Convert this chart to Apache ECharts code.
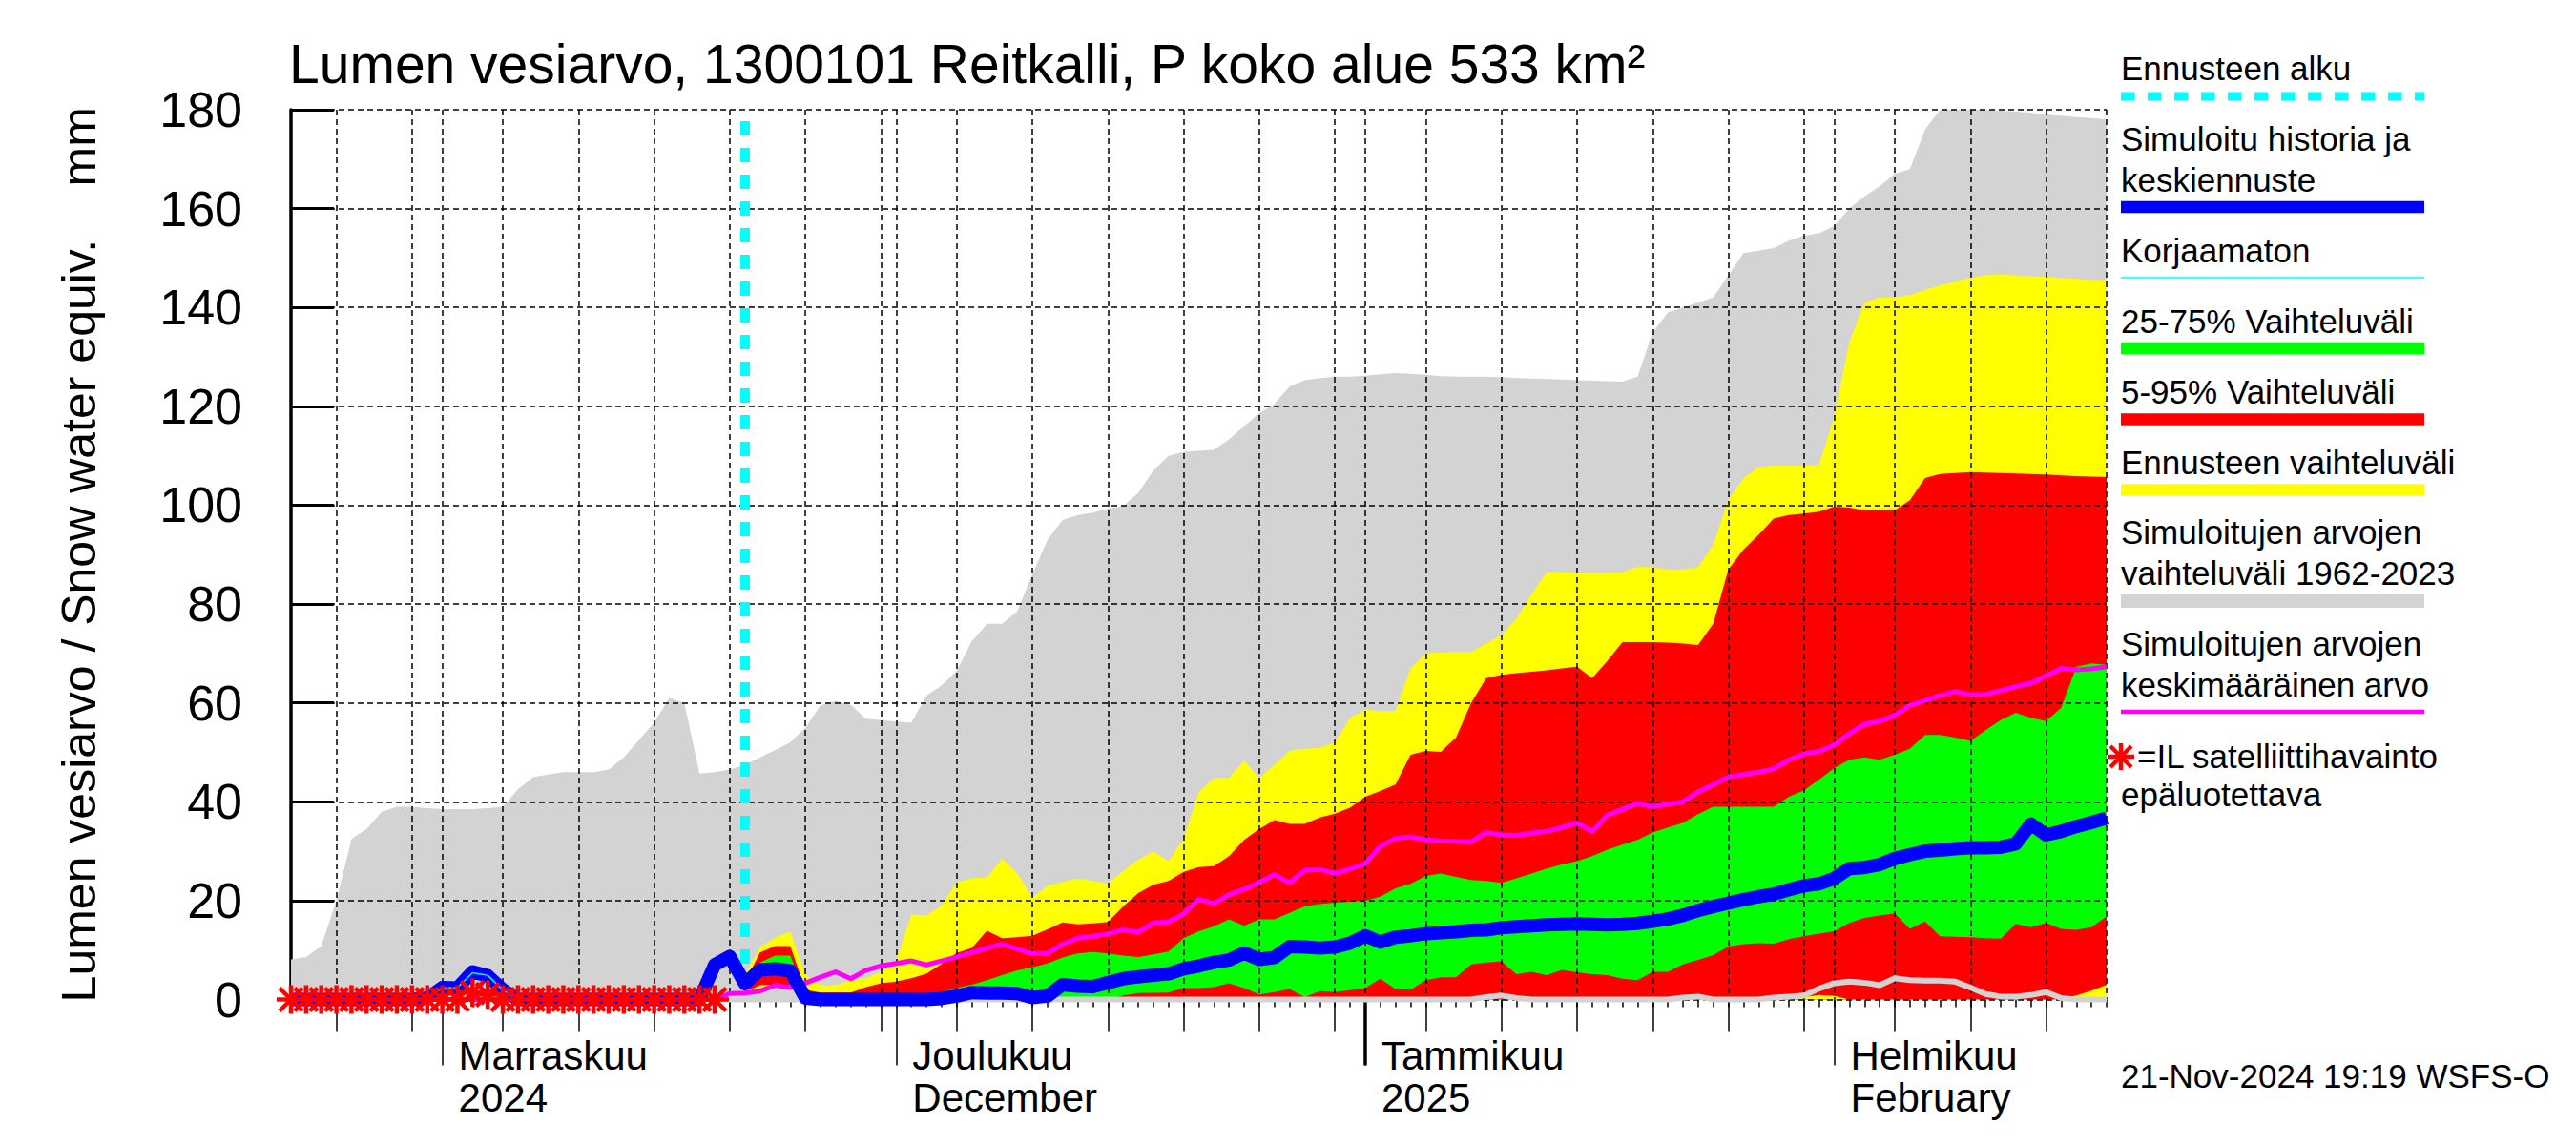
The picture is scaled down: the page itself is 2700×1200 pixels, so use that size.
<!DOCTYPE html>
<html><head><meta charset="utf-8">
<script src="https://cdn.jsdelivr.net/npm/echarts@6/dist/echarts.min.js"></script>
<style>html,body{margin:0;padding:0;background:#fff}#c{width:2700px;height:1200px}</style>
</head><body><div id="c"></div>
<script>
// ---- categories: daily dates 22 Oct 2024 .. 19 Feb 2025 ----
const firstDay = '2024-10-22';
const dayCount = 121;
const dates = [];
for (let i = 0; i < dayCount; i++) {
  const d = new Date(Date.UTC(2024, 9, 22 + i));
  dates.push(d.toISOString().slice(0, 10));
}
const forecastStart = '2024-11-21';
const monthLabelDates = ['2024-11-01', '2024-12-01', '2025-01-01', '2025-02-01'];
const monthLabels = ['Marraskuu\n2024', 'Joulukuu\nDecember', 'Tammikuu\n2025', 'Helmikuu\nFebruary'];
const yTicks = [0, 20, 40, 60, 80, 100, 120, 140, 160, 180];

// ---- series values (mm) ----
// simulated values 1962-2023: maximum (grey band top)
const histMax = [
  8.1, 8.6, 10.8, 20, 32.5, 34.5, 38, 39, 39, 38.7,
  38.5, 38.5, 38.5, 38.7, 39, 42.5, 45, 45.5, 46, 46,
  46, 46.5, 49, 52.5, 56, 61, 60, 45.7, 46, 46.5,
  47.5, 49, 50.5, 52, 55, 59.5, 60.4, 59.6, 56.8, 56.5,
  56.2, 56, 61.5, 63.5, 66.5, 72.5, 76, 76, 78.5, 86,
  93, 97, 98, 98.5, 99.3, 99.8, 102.5, 107, 110, 110.8,
  111, 111.2, 113.3, 116, 118.6, 120.5, 124, 125.3, 125.7, 126,
  126, 126.2, 126.5, 126.7, 126.6, 126.4, 126.1, 126, 126, 126,
  125.9, 125.7, 125.6, 125.5, 125.4, 125.3, 125.2, 125.1, 125, 126,
  135, 139, 140, 141, 142, 146.5, 151, 151.5, 152, 153.5,
  154.5, 155, 156.5, 160, 162.5, 164.5, 167, 168, 176, 180,
  180, 180, 180, 179.8, 179.6, 179.4, 179, 178.8, 178.5, 178.3, 178
];
// simulated values 1962-2023: minimum (grey line)
const histMin = [
  0, 0, 0, 0, 0, 0, 0, 0, 0, 0,
  0, 0, 0, 0, 0, 0, 0, 0, 0, 0,
  0, 0, 0, 0, 0, 0, 0, 0, 0, 0,
  0, 0, 0, 0, 0, 0, 0, 0, 0, 0,
  0, 0, 0, 0, 0, 0, 0, 0, 0, 0,
  0, 0, 0, 0, 0, 0, 0, 0, 0, 0,
  0, 0, 0, 0, 0, 0, 0, 0, 0, 0,
  0, 0, 0, 0, 0, 0, 0, 0, 0, 0.5,
  0.8, 0.3, 0, 0, 0, 0, 0, 0, 0, 0,
  0, 0, 0.4, 0.6, 0, 0, 0, 0, 0.4, 0.6,
  0.8, 2.2, 3.3, 3.6, 3.4, 2.9, 4.3, 3.9, 3.8, 3.8,
  3.6, 2.4, 1.1, 0.6, 0.6, 0.9, 1.5, 0.3, 0, 0, 0
];
// forecast range (yellow) max
const fcMax = [
  null, null, null, null, null, null, null, null, null, null,
  null, null, null, null, null, null, null, null, null, null,
  null, null, null, null, null, null, null, null, null, null,
  5, 10.5, 12.5, 13.7, 5, 2.9, 2.9, 3.9, 4.3, 5.5,
  7.8, 17.2, 17, 19, 23.7, 24.5, 24.7, 28.5, 25.5, 20.6,
  22.9, 23.8, 24.5, 24, 23.5, 26, 28.3, 29.9, 28, 32.5,
  42, 44.8, 44.9, 48.3, 44.8, 47.5, 50.3, 50.7, 50.9, 52,
  57, 58.6, 58.4, 58.4, 67, 70, 70.2, 70.3, 70.3, 72,
  73.7, 77, 82, 86.5, 86.5, 86.3, 86.3, 86.3, 86.5, 87.5,
  87.5, 87, 87, 87.5, 92, 101, 105.5, 107.7, 108, 108,
  108, 108.2, 118, 133, 141, 142, 142, 142.5, 143.5, 144.5,
  145.2, 146, 146.5, 146.7, 146.5, 146.3, 146.2, 146, 145.8, 145.6, 145.5
];
// 95 % quantile
const p95 = [
  null, null, null, null, null, null, null, null, null, null,
  null, null, null, null, null, null, null, null, null, null,
  null, null, null, null, null, null, null, null, null, null,
  3.5, 9.5, 10.8, 10.8, 2, 1.4, 1.4, 1.4, 2.5, 3.3,
  3.6, 4.3, 5.2, 7.2, 9.4, 10.4, 13.9, 12.4, 12.6, 12.9,
  14.2, 15.6, 15.2, 15.4, 15.7, 18.8, 21.5, 23.2, 24, 25.8,
  26.8, 27, 29, 32.3, 34.5, 36.3, 35.5, 35.5, 36.8, 37.6,
  38.8, 41, 42.2, 43.5, 49.5, 50.3, 50.1, 53, 60, 65,
  65.7, 66, 66.3, 66.6, 67, 67.3, 65, 68.5, 72.3, 72.3,
  72.3, 72.2, 72, 71.7, 76, 87, 91, 94, 97.3, 98,
  98.3, 98.7, 99.7, 99.5, 99, 99, 99, 101, 105.5, 106.3,
  106.5, 106.7, 106.6, 106.5, 106.4, 106.3, 106.2, 106, 105.9, 105.8, 105.7
];
// 75 % quantile
const p75 = [
  null, null, null, null, null, null, null, null, null, null,
  null, null, null, null, null, null, null, null, null, null,
  null, null, null, null, null, null, null, null, null, null,
  3, 7.5, 8.9, 8.9, 1, 0.5, 0.5, 0.5, 0.5, 0.5,
  0.5, 0.6, 0.8, 1.5, 2.3, 3, 3.9, 4.9, 5.9, 6.5,
  7.3, 8.5, 9.3, 9.6, 9.3, 8.9, 8.6, 9.1, 9.7, 12.4,
  13.8, 14.8, 16.2, 14.9, 16.2, 16.2, 17.5, 18.8, 19.3, 19.6,
  19.8, 20, 20.8, 22.5, 23.4, 25, 25.5, 24.8, 24.2, 24,
  23.6, 24.5, 25.5, 26.5, 27.3, 28, 29, 30.3, 31.3, 32.3,
  33.8, 34.8, 35.7, 37.5, 39, 39, 39, 39, 39, 41,
  42.3, 44.5, 46.8, 48.5, 49, 48.5, 49.5, 50.7, 53.5, 53.5,
  53, 52.3, 54.5, 56.5, 58, 57, 56.3, 59, 67.3, 68, 67.7
];
// 25 % quantile
const p25 = [
  null, null, null, null, null, null, null, null, null, null,
  null, null, null, null, null, null, null, null, null, null,
  null, null, null, null, null, null, null, null, null, null,
  2.5, 4.8, 5.2, 5, 0, 0, 0, 0, 0, 0,
  0, 0, 0, 0, 0, 0, 0, 0, 0, 0,
  0, 0, 0, 0, 0, 0.8, 1.3, 1.35, 1.4, 2.3,
  2.3, 2.5, 3.3, 2.3, 1, 1.5, 2.1, 0.5, 1.7, 1.5,
  1.9, 2.3, 4.2, 2.1, 2, 3.9, 4.5, 4.5, 7.1, 7.5,
  7.7, 5.1, 5.6, 4.9, 6, 5.5, 5.1, 4.9, 4.2, 3.9,
  5.6, 5.6, 7.1, 8, 9, 10.7, 11.2, 11.4, 11.3, 12.2,
  12.8, 13.3, 13.8, 15.5, 16.5, 17, 17.4, 14.3, 15.8, 12.8,
  12.7, 12.6, 12.4, 12.3, 15.3, 14.6, 15.5, 14.3, 14.1, 14.6, 16.8
];
// 5 % quantile
const p05 = [
  null, null, null, null, null, null, null, null, null, null,
  null, null, null, null, null, null, null, null, null, null,
  null, null, null, null, null, null, null, null, null, null,
  1.5, 2.9, 3, 2.9, 0, 0, 0, 0, 0, 0,
  0, 0, 0, 0, 0, 0, 0, 0, 0, 0,
  0, 0, 0, 0, 0, 0, 0, 0, 0, 0,
  0, 0, 0, 0, 0, 0, 0, 0, 0, 0,
  0, 0, 0, 0, 0, 0, 0, 0, 0, 0,
  0, 0, 0, 0, 0, 0, 0, 0, 0, 0,
  0, 0, 0, 0, 0, 0, 0, 0, 0, 0,
  0.5, 0.9, 0.7, 0, 0, 0, 0, 0, 0, 0,
  0, 0, 0, 0, 0, 0, 0, 0.2, 0.8, 1.8, 3
];
// forecast range min
const fcMin = [
  null, null, null, null, null, null, null, null, null, null,
  null, null, null, null, null, null, null, null, null, null,
  null, null, null, null, null, null, null, null, null, null,
  1, 2.2, 2.3, 2.2, 0, 0, 0, 0, 0, 0,
  0, 0, 0, 0, 0, 0, 0, 0, 0, 0,
  0, 0, 0, 0, 0, 0, 0, 0, 0, 0,
  0, 0, 0, 0, 0, 0, 0, 0, 0, 0,
  0, 0, 0, 0, 0, 0, 0, 0, 0, 0,
  0, 0, 0, 0, 0, 0, 0, 0, 0, 0,
  0, 0, 0, 0, 0, 0, 0, 0, 0, 0,
  0, 0, 0, 0, 0, 0, 0, 0, 0, 0,
  0, 0, 0, 0, 0, 0, 0, 0, 0, 0, 0
];
// simulated history and median forecast (blue)
const median = [
  0, 0, 0, 0, 0, 0, 0, 0, 0, 0.3,
  2.4, 2.3, 5.6, 4.8, 2, 0, 0, 0, 0, 0,
  0, 0, 0, 0, 0, 0, 0, 0, 7, 8.7,
  3.2, 6, 6.2, 5.8, 0.3, 0, 0, 0, 0, 0,
  0, 0, 0, 0.2, 0.7, 1.4, 1.3, 1.3, 1.2, 0.4,
  0.7, 3, 2.7, 2.6, 3.4, 4.2, 4.6, 4.9, 5.2, 6.2,
  6.8, 7.5, 8, 9.4, 8.1, 8.5, 10.7, 10.6, 10.4, 10.6,
  11.4, 12.9, 11.6, 12.6, 12.9, 13.3, 13.5, 13.7, 14, 14.1,
  14.5, 14.7, 14.9, 15.1, 15.2, 15.3, 15.2, 15.1, 15.2, 15.4,
  15.8, 16.3, 17, 18, 18.8, 19.5, 20.2, 20.8, 21.3, 22.2,
  23, 23.4, 24.5, 26.5, 26.7, 27.3, 28.5, 29.3, 30, 30.2,
  30.5, 30.7, 30.7, 30.8, 31.5, 35.5, 33.3, 34, 35, 35.8, 36.7
];
// uncorrected simulation (thin cyan)
const uncorrected = [
  0, 0, 0, 0, 0, 0, 0, 0, 0, 0.3,
  2.3, 2.4, 5.4, 4.9, 1.9, 0, 0, 0, 0, 0,
  0, 0, 0, 0, 0, 0, 0, 0, null, null,
  null, null, null, null, null, null, null, null, null, null,
  null, null, null, null, null, null, null, null, null, null,
  null, null, null, null, null, null, null, null, null, null,
  null, null, null, null, null, null, null, null, null, null,
  null, null, null, null, null, null, null, null, null, null,
  null, null, null, null, null, null, null, null, null, null,
  null, null, null, null, null, null, null, null, null, null,
  null, null, null, null, null, null, null, null, null, null,
  null, null, null, null, null, null, null, null, null, null, null
];
// mean of simulated values (magenta)
const meanSim = [
  0, 0, 0, 0, 0, 0, 0, 0, 0, 0,
  0, 0, 0, 0, 0, 0, 0, 0, 0, 0,
  0, 0, 0, 0, 0, 0, 0, 0, 0, 1.2,
  1.3, 1.7, 2.9, 2.4, 3.3, 4.5, 5.6, 4.2, 5.9, 6.8,
  7.3, 7.8, 7, 7.8, 8.6, 9.5, 10.4, 11.2, 10.2, 9.3,
  9.3, 11.2, 12.4, 12.8, 13.3, 14.1, 13.6, 15.5, 15.7, 17.3,
  20.3, 19.4, 21.2, 22.3, 23.7, 25.3, 23.6, 26.1, 26.3, 25.5,
  26.4, 27.5, 31, 32.6, 32.9, 32.3, 32.1, 32, 31.9, 33.8,
  33.3, 33.2, 33.7, 34, 34.8, 35.7, 34, 37.3, 38.5, 39.7,
  39, 39.5, 40, 42, 43.5, 45, 45.5, 46, 46.7, 48.5,
  49.7, 50.2, 51.5, 53.8, 55.7, 56.3, 57.5, 59.5, 60.5, 61.5,
  62.3, 61.7, 61.7, 62.5, 63.3, 64, 65.5, 67, 66.7, 66.9, 67.3
];
// unreliable satellite observations (red asterisks)
const satObs = [
  0, 0, 0, 0, 0, 0, 0, 0, 0, 0,
  0, 0, 1.4, 1.0, 0, 0, 0, 0, 0, 0,
  0, 0, 0, 0, 0, 0, 0, 0, 0, null,
  null, null, null, null, null, null, null, null, null, null,
  null, null, null, null, null, null, null, null, null, null,
  null, null, null, null, null, null, null, null, null, null,
  null, null, null, null, null, null, null, null, null, null,
  null, null, null, null, null, null, null, null, null, null,
  null, null, null, null, null, null, null, null, null, null,
  null, null, null, null, null, null, null, null, null, null,
  null, null, null, null, null, null, null, null, null, null,
  null, null, null, null, null, null, null, null, null, null, null
];

// ---- chart ----
const FONT = '"Liberation Sans", Arial, Helvetica, sans-serif';
const dayOf = (i) => +dates[i].slice(8, 10);
const isFive = (i) => dayOf(i) % 5 === 0;
const isMonth = (i) => dayOf(i) === 1;

const chart = echarts.init(document.getElementById('c'), null, { renderer: 'svg', width: 2700, height: 1200 });

const baseX = {
  type: 'category', data: dates, boundaryGap: false, gridIndex: 0, position: 'bottom',
  axisLine: { show: false }, axisLabel: { show: false }, splitLine: { show: false },
  axisTick: { show: false }, axisPointer: { show: false }
};
const tickStyle = { color: '#000', width: 1.5 };

const area = (name, data, color) => ({
  name, type: 'line', data, symbol: 'none', showSymbol: false,
  lineStyle: { width: 0, opacity: 0 }, areaStyle: { color, opacity: 1, origin: 'start' },
  z: 1, silent: true, connectNulls: false
});

// asterisk (+ and x) made of four strokes around a centre point
const asteriskParts = (cx, cy, r, d, w) => {
  const seg = (x1, y1, x2, y2) => ({ type: 'line', shape: { x1, y1, x2, y2 }, style: { stroke: '#ff0000', lineWidth: w }, silent: true });
  return [seg(cx - r, cy, cx + r, cy), seg(cx, cy - r, cx, cy + r), seg(cx - d, cy - d, cx + d, cy + d), seg(cx - d, cy + d, cx + d, cy - d)];
};
const satData = [];
satObs.forEach((v, i) => { if (v !== null) satData.push([dates[i], v]); });

const legendX = 2223, legendX2 = 2541;
const gText = (text, y, x) => ({
  type: 'text', x: x === undefined ? legendX : x, y,
  style: { text, fontSize: 35, fontFamily: FONT, fill: '#000', textAlign: 'left', textVerticalAlign: 'middle', align: 'left', verticalAlign: 'middle' },
  silent: true
});
const gLine = (y, color, w, dash) => ({
  type: 'line', shape: { x1: legendX, y1: y, x2: legendX2, y2: y },
  style: { stroke: color, lineWidth: w, lineDash: dash || null }, silent: true
});

const option = {
  animation: false,
  backgroundColor: '#ffffff',
  title: {
    text: 'Lumen vesiarvo, 1300101 Reitkalli, P koko alue 533 km²',
    left: 303, top: 38, padding: 0,
    textStyle: { fontSize: 57, fontWeight: 'normal', color: '#000', fontFamily: FONT }
  },
  grid: { left: 305, top: 115, width: 1903, height: 932.5, containLabel: false },
  xAxis: [
    { ...baseX,
      axisTick: { show: true, interval: 0, length: 8, lineStyle: tickStyle },
      axisLabel: { show: true, interval: (i) => monthLabelDates.includes(dates[i]),
        formatter: (v) => monthLabels[monthLabelDates.indexOf(v)] || '',
        align: 'left', padding: [0, 0, 0, 17], margin: 37, fontSize: 42, lineHeight: 44,
        color: '#000', fontFamily: FONT } },
    { ...baseX, axisTick: { show: true, interval: (i) => isFive(i), length: 34, lineStyle: tickStyle } },
    { ...baseX, axisTick: { show: true, interval: (i) => isMonth(i), length: 69, lineStyle: tickStyle } },
    { ...baseX, axisTick: { show: true, interval: (i) => dates[i] === '2025-01-01', length: 69, lineStyle: { color: '#000', width: 3.5 } } },
    { ...baseX, z: 3, splitLine: { show: true, interval: (i) => isFive(i) || isMonth(i) || i === dates.length - 1,
        lineStyle: { color: '#000', width: 1.5, type: [6, 4] } } }
  ],
  yAxis: [
    { type: 'value', min: yTicks[0], max: yTicks[yTicks.length - 1], interval: 20, gridIndex: 0, z: 0, position: 'left',
      axisLine: { show: true, lineStyle: { color: '#000', width: 3.5 } },
      axisTick: { show: true, inside: true, length: 45, lineStyle: { color: '#000', width: 3 } },
      axisLabel: { show: true, margin: 51, fontSize: 52, color: '#000', fontFamily: FONT, padding: [0, 0, 16, 0] },
      splitLine: { show: false },
      name: 'Lumen vesiarvo / Snow water equiv.\u00a0\u00a0\u00a0\u00a0mm', nameLocation: 'middle', nameGap: 197,
      nameTextStyle: { fontSize: 50, color: '#000', fontFamily: FONT } },
    { type: 'value', min: yTicks[0], max: yTicks[yTicks.length - 1], interval: 20, gridIndex: 0, z: 3, position: 'left',
      axisLine: { show: false }, axisTick: { show: false }, axisLabel: { show: false },
      splitLine: { show: true, lineStyle: { color: '#000', width: 1.5, type: [6, 4] } } }
  ],
  series: [
    area('Simuloitujen arvojen vaihteluväli 1962-2023', histMax, '#d3d3d3'),
    area('Ennusteen vaihteluväli', fcMax, '#ffff00'),
    area('5-95% Vaihteluväli', p95, '#ff0000'),
    area('25-75% Vaihteluväli', p75, '#00ff00'),
    area('25 %', p25, '#ff0000'),
    area('5 %', p05, '#ffff00'),
    area('min', fcMin, '#d3d3d3'),
    { name: 'Simuloitujen arvojen minimi', type: 'line', data: histMin, symbol: 'none',
      lineStyle: { color: '#d3d3d3', width: 6, join: 'round' }, z: 4, clip: false, silent: true },
    { name: 'Simuloitujen arvojen keskimääräinen arvo', type: 'line', data: meanSim, symbol: 'none',
      lineStyle: { color: '#ff00ff', width: 5, join: 'round' }, z: 5, clip: false, silent: true },
    { name: 'Simuloitu historia ja keskiennuste', type: 'line', data: median, symbol: 'none',
      lineStyle: { color: '#0000ff', width: 14, join: 'round' }, z: 6, clip: false, silent: true },
    { name: 'Korjaamaton', type: 'line', data: uncorrected, symbol: 'none',
      lineStyle: { color: '#00ffff', width: 1.5 }, z: 7, silent: true },
    { name: 'IL satelliittihavainto epäluotettava', type: 'custom', data: satData, z: 8, silent: true, clip: false,
      encode: { x: 0, y: 1 },
      renderItem: (params, api) => {
        const p = api.coord([api.value(0), api.value(1)]);
        return { type: 'group', children: asteriskParts(p[0], p[1], 15, 12, 4.5) };
      } },
    { name: 'Ennusteen alku', type: 'line', data: [], z: 9, silent: true,
      markLine: { silent: true, symbol: ['none', 'none'], label: { show: false }, animation: false,
        lineStyle: { color: '#00ffff', width: 10, type: [15, 13] },
        data: [[{ coord: [forecastStart, 177.7] }, { coord: [forecastStart, 0] }]] } }
  ],
  graphic: [
    gText('Ennusteen alku', 71.5), gLine(101, '#00ffff', 9, [14.3, 13.7]),
    gText('Simuloitu historia ja', 145.5), gText('keskiennuste', 188.5), gLine(217, '#0000ff', 12.5),
    gText('Korjaamaton', 262), gLine(291, '#00ffff', 1.5),
    gText('25-75% Vaihteluväli', 336), gLine(365, '#00ff00', 12.5),
    gText('5-95% Vaihteluväli', 410), gLine(439.6, '#ff0000', 12.5),
    gText('Ennusteen vaihteluväli', 484), gLine(513.6, '#ffff00', 12.5),
    gText('Simuloitujen arvojen', 557), gText('vaihteluväli 1962-2023', 600), gLine(630, '#d3d3d3', 14),
    gText('Simuloitujen arvojen', 674.5), gText('keskimääräinen arvo', 717.5), gLine(746, '#ff00ff', 4.5),
    ...asteriskParts(2223, 793, 14, 11, 4.5),
    gText('=IL satelliittihavainto', 792, 2240), gText('epäluotettava', 832),
    gText('21-Nov-2024 19:19 WSFS-O', 1127.5)
  ]
};
chart.setOption(option);
</script>
</body></html>
